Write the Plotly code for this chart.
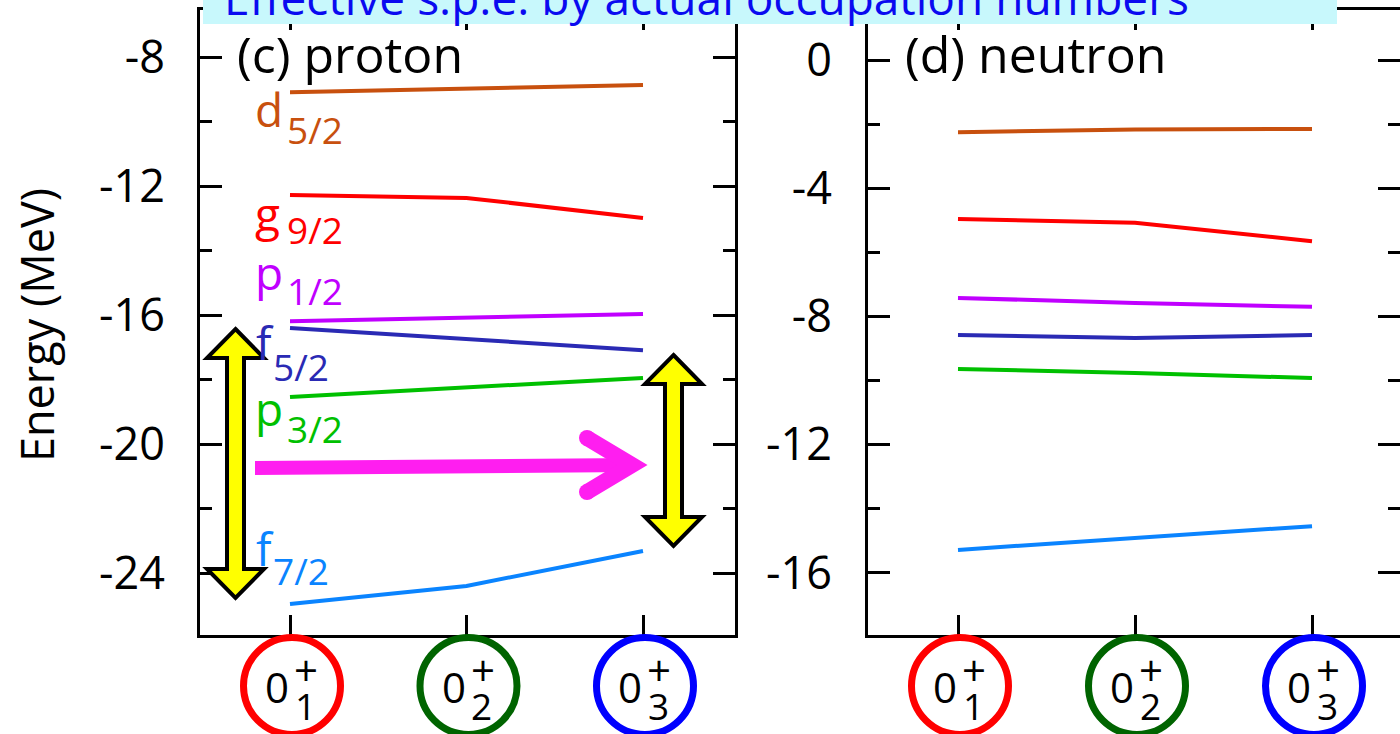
import plotly.graph_objects as go

# ---------------- data ----------------
states = ["0+1", "0+2", "0+3"]
state_x = [0, 1, 2]
state_sub = ["1", "2", "3"]
state_colors = ["#ff0000", "#006400", "#0000ff"]

orbit_main = ["d", "g", "p", "f", "p", "f"]
orbit_sub = ["5/2", "9/2", "1/2", "5/2", "3/2", "7/2"]
orbit_colors = ["#c8500e", "#ff0000", "#c000ff", "#2a2ab4", "#00c000", "#0a84ff"]

proton_d52 = [-9.09, -8.98, -8.87]
proton_g92 = [-12.28, -12.37, -12.99]
proton_p12 = [-16.19, -16.09, -15.97]
proton_f52 = [-16.40, -16.74, -17.09]
proton_p32 = [-18.54, -18.25, -17.95]
proton_f72 = [-24.96, -24.40, -23.32]

neutron_d52 = [-2.25, -2.17, -2.15]
neutron_g92 = [-4.96, -5.08, -5.65]
neutron_p12 = [-7.42, -7.58, -7.70]
neutron_f52 = [-8.58, -8.67, -8.58]
neutron_p32 = [-9.64, -9.76, -9.92]
neutron_f72 = [-15.28, -14.91, -14.54]

proton = [proton_d52, proton_g92, proton_p12, proton_f52, proton_p32, proton_f72]
neutron = [neutron_d52, neutron_g92, neutron_p12, neutron_f52, neutron_p32, neutron_f72]

proton_ticks = [-8, -12, -16, -20, -24]
neutron_ticks = [0, -4, -8, -12, -16]

# ---------------- layout geometry ----------------
W, H = 1400, 734
FONT = "Open Sans"
TOP, BOT = 10, 635
ydom = [(H - BOT) / H, (H - TOP) / H]

# left panel pixel<->data
LX0, LXS = 290.0, 176.5      # px of x=0, px per unit
LY0, LYS = 57.0, 32.25       # px of y=-8, px per MeV
def LX(px): return (px - LX0) / LXS
def LY(py): return -8 - (py - LY0) / LYS

RX0, RXS = 958.0, 177.0
RY0, RYS = 60.0, 32.06

xr_left = [LX(200), LX(735)]
yr_left = [LY(BOT), LY(TOP)]
xr_right = [(868 - RX0) / RXS, (1400 - RX0) / RXS]
yr_right = [-(BOT - RY0) / RYS, (RY0 - TOP) / RYS]

fig = go.Figure()

for vals, col in zip(proton, orbit_colors):
    fig.add_trace(go.Scatter(x=state_x, y=vals, mode="lines",
                             line=dict(color=col, width=4),
                             xaxis="x", yaxis="y", showlegend=False, hoverinfo="skip"))
for vals, col in zip(neutron, orbit_colors):
    fig.add_trace(go.Scatter(x=state_x, y=vals, mode="lines",
                             line=dict(color=col, width=4),
                             xaxis="x2", yaxis="y2", showlegend=False, hoverinfo="skip"))
# invisible trace to carry the right-hand tick axis of panel (d)
fig.add_trace(go.Scatter(x=[0], y=[0], mode="markers", marker=dict(opacity=0),
                         xaxis="x2", yaxis="y3", showlegend=False, hoverinfo="skip"))

axis_common = dict(showline=True, linecolor="black", linewidth=3,
                   ticks="inside", tickwidth=3, tickcolor="black",
                   showgrid=False, zeroline=False)
minor = dict(ticks="inside", ticklen=12, tickwidth=3, tickcolor="black",
             tickmode="linear", tick0=0, dtick=2, showgrid=False)
TICKFONT = dict(family=FONT, size=45, color="black")

fig.update_layout(
    width=W, height=H, margin=dict(l=0, r=0, t=0, b=0),
    paper_bgcolor="white", plot_bgcolor="white",
    xaxis=dict(domain=[200 / W, 735 / W], range=xr_left, tickvals=state_x,
               showticklabels=False, ticklen=20, mirror="ticks", **axis_common),
    yaxis=dict(domain=ydom, range=yr_left, anchor="x", tickvals=proton_ticks,
               ticktext=[str(v) for v in proton_ticks], ticklen=22, mirror="ticks",
               minor=minor, ticklabelstandoff=23, tickfont=TICKFONT, **axis_common),
    xaxis2=dict(domain=[868 / W, 1.0], range=xr_right, tickvals=state_x, anchor="y2",
                showticklabels=False, ticklen=20, mirror="ticks", **axis_common),
    yaxis2=dict(domain=ydom, range=yr_right, anchor="x2", tickvals=neutron_ticks,
                ticktext=[str(v) for v in neutron_ticks], ticklen=22, mirror=False,
                minor=minor, ticklabelstandoff=24, tickfont=TICKFONT, **axis_common),
    yaxis3=dict(domain=ydom, range=yr_right, anchor="x2", overlaying="y2", side="right",
                tickvals=neutron_ticks, showticklabels=False, ticks="inside",
                ticklen=22, tickwidth=3, tickcolor="black", showline=False,
                showgrid=False, zeroline=False, minor=minor),
)

shapes = []
ann = []

def P(px, py):
    return px / W, 1 - py / H

def text_at(px, baseline, txt, size, color="black", xanchor="left", angle=0):
    x, y = P(px, baseline - 0.388 * size)
    ann.append(dict(x=x, y=y, xref="paper", yref="paper", text=txt, showarrow=False,
                    xanchor=xanchor, yanchor="middle", textangle=angle,
                    font=dict(family=FONT, size=size, color=color)))

# title box (cropped at the top of the picture)
shapes.append(dict(type="rect", xref="paper", yref="paper", x0=203 / W, x1=1337 / W,
                   y0=1 - 24 / H, y1=1.05, fillcolor="#c8f8fc", line=dict(width=0),
                   layer="above"))
text_at(706, 15, "Effective s.p.e. by actual occupation numbers", 46, "#0a0af0", "center")

# panel labels
text_at(235, 73, "(c) proton", 50)
text_at(903, 73, "(d) neutron", 50)

# y-axis title
ann.append(dict(x=37 / W, y=1 - 325 / H, xref="paper", yref="paper", text="Energy (MeV)",
                showarrow=False, textangle=-90, xanchor="center", yanchor="middle",
                font=dict(family=FONT, size=45, color="black")))

# orbital labels (letter left px, letter baseline, sub left px, sub baseline)
label_pos = [(253, 127, 285, 144), (253, 231, 285, 244), (253, 290, 285, 305),
             (254, 360, 271, 381), (253, 426, 285, 443), (254, 566, 271, 585)]
for (lx, lb, sx, sb), m, s, c in zip(label_pos, orbit_main, orbit_sub, orbit_colors):
    text_at(lx, lb, m, 46, c)
    text_at(sx, sb, s, 37, c)

# state circles and labels below both panels
for xref in ["x", "x2"]:
    for i, col, sub in zip(state_x, state_colors, state_sub):
        shapes.append(dict(type="circle", xref=xref, yref="paper",
                           xsizemode="pixel", ysizemode="pixel",
                           xanchor=i, yanchor=1 - 686 / H,
                           x0=-46.5, x1=50.5, y0=-48.5, y1=48.5,
                           line=dict(color=col, width=7), layer="above"))
        ann.append(dict(x=i, y=1 - (703 - 0.388 * 42) / H, xref=xref, yref="paper",
                        text="0", showarrow=False, xanchor="center", yanchor="middle",
                        xshift=-13, font=dict(family=FONT, size=42, color="black")))
        ann.append(dict(x=i, y=1 - 669 / H, xref=xref, yref="paper", text="+",
                        showarrow=False, xanchor="center", yanchor="middle", xshift=16,
                        font=dict(family=FONT, size=42, color="black")))
        ann.append(dict(x=i, y=1 - (720 - 0.388 * 37) / H, xref=xref, yref="paper",
                        text=sub, showarrow=False, xanchor="center", yanchor="middle",
                        xshift=15, font=dict(family=FONT, size=37, color="black")))

# yellow double arrows (proton panel)
def double_arrow(cx, ty, by):
    sw, hw, hh = 8.5, 28.5, 29
    pts = [(cx, ty), (cx + hw, ty + hh), (cx + sw, ty + hh), (cx + sw, by - hh),
           (cx + hw, by - hh), (cx, by), (cx - hw, by - hh), (cx - sw, by - hh),
           (cx - sw, ty + hh), (cx - hw, ty + hh)]
    path = "M " + " L ".join(f"{LX(px):.4f},{LY(py):.4f}" for px, py in pts) + " Z"
    shapes.append(dict(type="path", xref="x", yref="y", path=path, fillcolor="#ffff00",
                       line=dict(color="black", width=4), layer="above"))

double_arrow(235.5, 329, 598)
double_arrow(673.5, 355, 546)

# magenta arrow
MAG = "#ff1ef0"
shaft = [(255, 461), (636, 458), (636, 472), (255, 475)]
shapes.append(dict(type="path", xref="x", yref="y",
                   path="M " + " L ".join(f"{LX(a):.4f},{LY(b):.4f}" for a, b in shaft) + " Z",
                   fillcolor=MAG, line=dict(width=0), layer="above"))
chev = [(587, 438), (632, 465), (587, 492)]
shapes.append(dict(type="path", xref="x", yref="y",
                   path="M " + " L ".join(f"{LX(a):.4f},{LY(b):.4f}" for a, b in chev),
                   line=dict(color=MAG, width=16), layer="above"))
for a, b in [chev[0], chev[2]]:
    shapes.append(dict(type="circle", xref="x", yref="y", xsizemode="pixel",
                       ysizemode="pixel", xanchor=LX(a), yanchor=LY(b),
                       x0=-8, x1=8, y0=-8, y1=8, fillcolor=MAG, line=dict(width=0),
                       layer="above"))

fig.update_layout(shapes=shapes, annotations=ann)
fig.write_html("out.html")
